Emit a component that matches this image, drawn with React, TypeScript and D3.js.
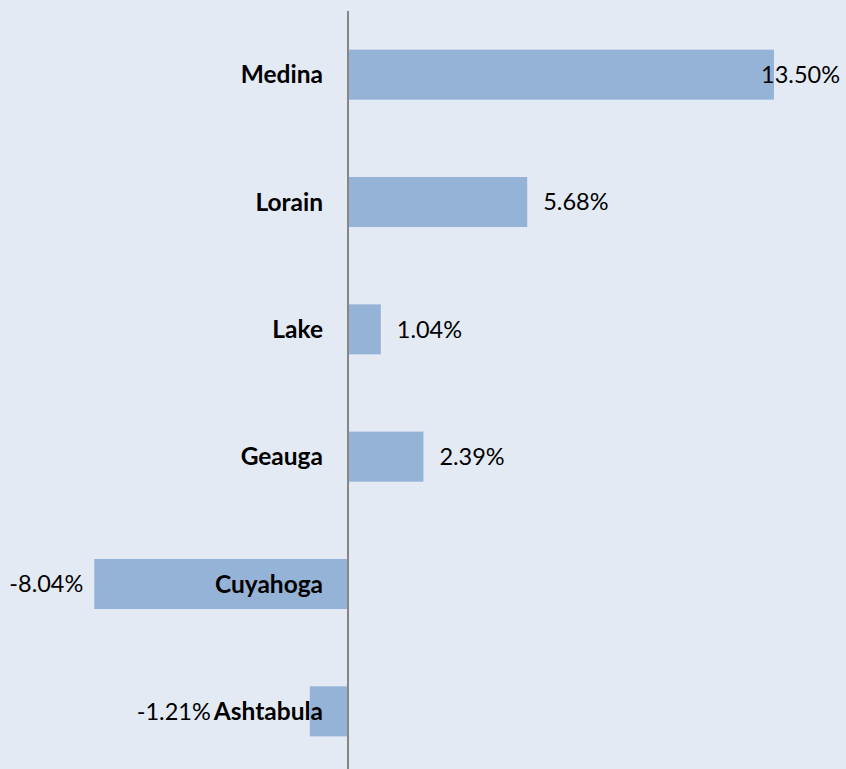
import React, { useEffect, useRef } from "react";
import * as d3 from "d3";

const categories = ["Medina", "Lorain", "Lake", "Geauga", "Cuyahoga", "Ashtabula"];
const values = [13.5, 5.68, 1.04, 2.39, -8.04, -1.21];
const valueLabels = ["13.50%", "5.68%", "1.04%", "2.39%", "-8.04%", "-1.21%"];

const W = 846;
const H = 769;
const FONT = "Lato, 'Open Sans', sans-serif";

export default function App() {
  const ref = useRef<SVGSVGElement | null>(null);

  useEffect(() => {
    document.body.style.margin = "0";
    const svg = d3.select(ref.current);
    svg.selectAll("*").remove();

    svg.append("rect").attr("width", W).attr("height", H).attr("fill", "#E4EAF4");

    const x = d3.scaleLinear().domain([-8.04, 13.5]).range([94.3, 774]);
    const y = d3.scaleBand<string>().domain(categories).range([11, 775]).paddingInner(0.607).paddingOuter(0.3035);

    const data = categories.map((c, i) => ({ c, v: values[i], label: valueLabels[i] }));

    svg
      .selectAll("rect.bar")
      .data(data)
      .enter()
      .append("rect")
      .attr("class", "bar")
      .attr("x", (d) => Math.min(x(0), x(d.v)))
      .attr("width", (d) => Math.abs(x(d.v) - x(0)))
      .attr("y", (d) => y(d.c)!)
      .attr("height", y.bandwidth())
      .attr("fill", "#95B3D7");

    svg
      .append("line")
      .attr("x1", x(0))
      .attr("x2", x(0))
      .attr("y1", 11)
      .attr("y2", H)
      .attr("stroke", "#868686")
      .attr("stroke-width", 2);

    const catLabels = svg
      .selectAll("text.cat")
      .data(data)
      .enter()
      .append("text")
      .attr("class", "cat")
      .attr("x", x(0) - 25)
      .attr("y", (d) => y(d.c)! + y.bandwidth() / 2)
      .attr("dy", "0.36em")
      .attr("text-anchor", "end")
      .attr("font-family", FONT)
      .attr("font-weight", "bold")
      .attr("font-size", 24.5)
      .attr("fill", "#000")
      .text((d) => d.c);

    const catStart: number[] = [];
    catLabels.each(function () {
      const n = this as SVGTextElement;
      catStart.push(x(0) - 25 - n.getComputedTextLength());
    });

    svg
      .selectAll("text.val")
      .data(data)
      .enter()
      .append("text")
      .attr("class", "val")
      .attr("y", (d) => y(d.c)! + y.bandwidth() / 2)
      .attr("dy", "0.36em")
      .attr("font-family", FONT)
      .attr("font-size", 23.5)
      .attr("fill", "#000")
      .text((d) => d.label)
      .each(function (d, i) {
        const n = this as SVGTextElement;
        const w = n.getComputedTextLength();
        const sel = d3.select(n);
        if (d.v >= 0) {
          let sx = x(d.v) + 16;
          if (sx + w > W - 6) sx = W - 6 - w;
          sel.attr("x", sx).attr("text-anchor", "start");
        } else {
          let ex = x(d.v) - 11;
          ex = Math.min(ex, catStart[i] - 3);
          sel.attr("x", ex).attr("text-anchor", "end");
        }
      });
  }, []);

  return <svg ref={ref} width={W} height={H} style={{ display: "block" }} />;
}
